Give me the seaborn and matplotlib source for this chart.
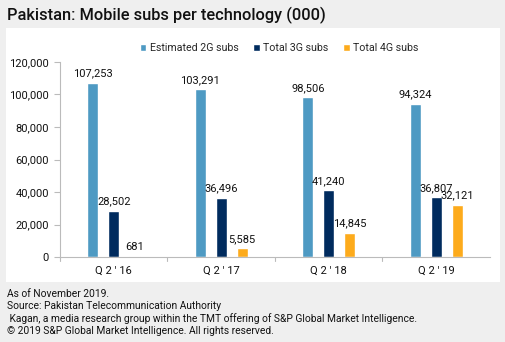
import matplotlib
matplotlib.use("Agg")
import matplotlib.pyplot as plt
from matplotlib.patches import Rectangle
import seaborn as sns
import pandas as pd

categories = ["Q2'16", "Q2'17", "Q2'18", "Q2'19"]
series = ["Estimated 2G subs", "Total 3G subs", "Total 4G subs"]
subs_2g = [107253, 103291, 98506, 94324]
subs_3g = [28502, 36496, 41240, 36807]
subs_4g = [681, 5585, 14845, 32121]
colors = ["#4e9ac3", "#002b5e", "#fdab1c"]
yticks = [0, 20000, 40000, 60000, 80000, 100000, 120000]

rows = []
for name, vals in zip(series, [subs_2g, subs_3g, subs_4g]):
    for c, v in zip(categories, vals):
        rows.append({"quarter": c, "series": name, "value": v})
df = pd.DataFrame(rows)

sns.set_theme(style="white")
plt.rcParams["font.family"] = ["Roboto", "DejaVu Sans"]

fig = plt.figure(figsize=(5.06, 3.42), dpi=100)
fig.patch.set_facecolor("#efefef")
fig.patches.append(Rectangle((6 / 506, 1 - 282 / 342), 494 / 506, 254 / 342,
                             transform=fig.transFigure, facecolor="white",
                             edgecolor="none", zorder=-5))

ax = fig.add_axes([60 / 506, 1 - 257 / 342, 430 / 506, 195 / 342])
ax.set_zorder(2)
ax.set_facecolor("none")

sns.barplot(data=df, x="quarter", y="value", hue="series", palette=colors,
            width=0.585, gap=0.47, ax=ax, saturation=1, legend=True)

for cont in ax.containers:
    labels = [f"{int(v):,}" for v in cont.datavalues]
    ax.bar_label(cont, labels=labels, padding=3, fontsize=8, color="#111111")

ax.set_ylim(0, 120000)
ax.set_xlim(-0.5, 3.5)
ax.set_yticks(yticks)
ax.set_yticklabels([f"{v:,}" for v in yticks], fontsize=8, color="#111111")
ax.set_xticks(range(len(categories)))
ax.set_xticklabels([c.replace("Q2'", "Q 2 ' ") for c in categories], fontsize=8, color="#111111")
ax.tick_params(axis="x", length=0, pad=6)
ax.tick_params(axis="y", length=4, width=0.8, color="#bbbbbb", direction="out", left=True, pad=4)
for x in [-0.5, 0.5, 1.5, 2.5]:
    ax.plot([x, x], [0, -2500], color="#bbbbbb", lw=0.8, clip_on=False)
ax.set_xlabel("")
ax.set_ylabel("")
for s in ["top", "right"]:
    ax.spines[s].set_visible(False)
ax.spines["left"].set_color("#bbbbbb")
ax.spines["bottom"].set_color("#bbbbbb")
ax.spines["left"].set_linewidth(0.8)
ax.spines["bottom"].set_linewidth(0.8)

leg = ax.legend(loc="center", bbox_to_anchor=(279 / 506, 1 - 48 / 342), bbox_transform=fig.transFigure,
                ncol=3, frameon=False, fontsize=7.7, handlelength=0.6, handleheight=0.6,
                handletextpad=0.3, columnspacing=1.4)

fig.text(7 / 506, 1 - 15 / 342, "Pakistan: Mobile subs per technology (000)",
         fontsize=11.8, fontweight="medium", color="#111111", va="center", ha="left")

footer = ["As of November 2019.",
          "Source: Pakistan Telecommunication Authority",
          " Kagan, a media research group within the TMT offering of S&P Global Market Intelligence.",
          "\u00a9 2019 S&P Global Market Intelligence. All rights reserved."]
for i, line in enumerate(footer):
    fig.text(7 / 506, 1 - (294 + i * 12.3) / 342, line, fontsize=7.4,
             color="#111111", va="center", ha="left")

fig.savefig("out.png", dpi=100, facecolor=fig.get_facecolor())
